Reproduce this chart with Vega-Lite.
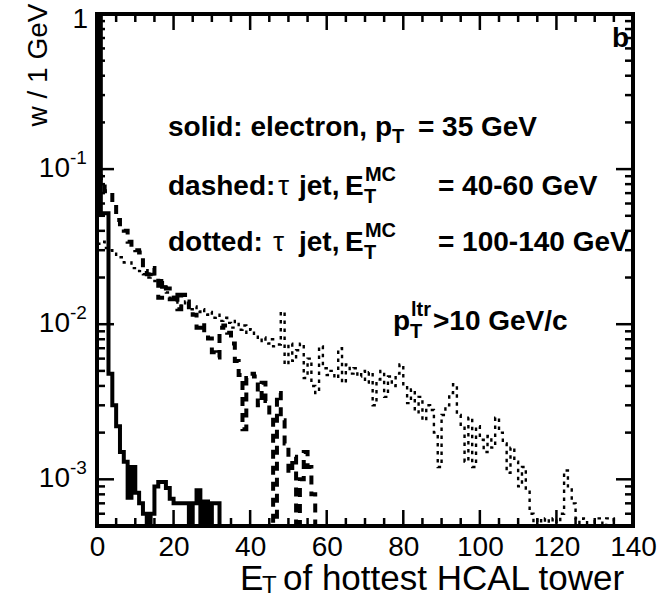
{
  "$schema": "https://vega.github.io/schema/vega-lite/v6.json",
  "width": 536,
  "height": 512,
  "autosize": {"type": "none"},
  "padding": {"left": 97, "top": 14, "right": 24, "bottom": 72},
  "background": "white",
  "config": {
    "view": {"stroke": "black", "strokeWidth": 4},
    "axis": {"grid": false, "domain": false, "labelColor": "black", "titleColor": "black", "tickColor": "black", "tickWidth": 2, "tickOpacity": 1}
  },
  "datasets": {
    "h": [
      {"s":"e","E":0,"w":0.97},{"s":"e","E":1,"w":0.052},{"s":"e","E":2,"w":0.052},{"s":"e","E":3,"w":0.0048},{"s":"e","E":4,"w":0.003},{"s":"e","E":5,"w":0.0022},{"s":"e","E":6,"w":0.0015},{"s":"e","E":7,"w":0.0013},{"s":"e","E":8,"w":0.00076},{"s":"e","E":9,"w":0.0012},{"s":"e","E":10,"w":0.00082},{"s":"e","E":11,"w":0.0007},{"s":"e","E":12,"w":0.0006},{"s":"e","E":13,"w":0.0001},{"s":"e","E":14,"w":0.0006},{"s":"e","E":15,"w":0.0009},{"s":"e","E":16,"w":0.00096},{"s":"e","E":17,"w":0.00096},{"s":"e","E":18,"w":0.00088},{"s":"e","E":19,"w":0.00075},{"s":"e","E":20,"w":0.0007},{"s":"e","E":21,"w":0.0007},{"s":"e","E":22,"w":0.0007},{"s":"e","E":23,"w":0.0007},{"s":"e","E":24,"w":0.0001},{"s":"e","E":25,"w":0.0007},{"s":"e","E":26,"w":0.00085},{"s":"e","E":27,"w":0.0001},{"s":"e","E":28,"w":0.00072},{"s":"e","E":29,"w":0.0001},{"s":"e","E":30,"w":0.0007},{"s":"e","E":31,"w":0.0007},{"s":"e","E":32,"w":0.0001},
      {"s":"d","E":0,"w":0.09},{"s":"d","E":1,"w":0.085},{"s":"d","E":2,"w":0.072},{"s":"d","E":3,"w":0.071},{"s":"d","E":4,"w":0.06},{"s":"d","E":5,"w":0.047},{"s":"d","E":6,"w":0.041},{"s":"d","E":7,"w":0.04},{"s":"d","E":8,"w":0.034},{"s":"d","E":9,"w":0.031},{"s":"d","E":10,"w":0.03},{"s":"d","E":11,"w":0.029},{"s":"d","E":12,"w":0.022},{"s":"d","E":13,"w":0.021},{"s":"d","E":14,"w":0.023},{"s":"d","E":15,"w":0.02},{"s":"d","E":16,"w":0.0148},{"s":"d","E":17,"w":0.019},{"s":"d","E":18,"w":0.017},{"s":"d","E":19,"w":0.0145},{"s":"d","E":20,"w":0.016},{"s":"d","E":21,"w":0.0125},{"s":"d","E":22,"w":0.0155},{"s":"d","E":23,"w":0.014},{"s":"d","E":24,"w":0.0125},{"s":"d","E":25,"w":0.0115},{"s":"d","E":26,"w":0.0095},{"s":"d","E":27,"w":0.0102},{"s":"d","E":28,"w":0.0088},{"s":"d","E":29,"w":0.0081},{"s":"d","E":30,"w":0.0066},{"s":"d","E":31,"w":0.0061},{"s":"d","E":32,"w":0.0095},{"s":"d","E":33,"w":0.0098},{"s":"d","E":34,"w":0.0088},{"s":"d","E":35,"w":0.0075},{"s":"d","E":36,"w":0.0058},{"s":"d","E":37,"w":0.0047},{"s":"d","E":38,"w":0.0021},{"s":"d","E":39,"w":0.0045},{"s":"d","E":40,"w":0.0048},{"s":"d","E":41,"w":0.0046},{"s":"d","E":42,"w":0.003},{"s":"d","E":43,"w":0.0042},{"s":"d","E":44,"w":0.0032},{"s":"d","E":45,"w":0.0025},{"s":"d","E":46,"w":0.0001},{"s":"d","E":47,"w":0.0036},{"s":"d","E":48,"w":0.0024},{"s":"d","E":49,"w":0.0017},{"s":"d","E":50,"w":0.0011},{"s":"d","E":51,"w":0.0014},{"s":"d","E":52,"w":0.0001},{"s":"d","E":53,"w":0.001},{"s":"d","E":54,"w":0.0015},{"s":"d","E":55,"w":0.0012},{"s":"d","E":56,"w":0.0008},{"s":"d","E":57,"w":0.0001},
      {"s":"o","E":0,"w":0.033},{"s":"o","E":1,"w":0.034},{"s":"o","E":2,"w":0.031},{"s":"o","E":3,"w":0.03},{"s":"o","E":4,"w":0.029},{"s":"o","E":5,"w":0.027},{"s":"o","E":6,"w":0.027},{"s":"o","E":7,"w":0.025},{"s":"o","E":8,"w":0.025},{"s":"o","E":9,"w":0.023},{"s":"o","E":10,"w":0.023},{"s":"o","E":11,"w":0.022},{"s":"o","E":12,"w":0.021},{"s":"o","E":13,"w":0.02},{"s":"o","E":14,"w":0.021},{"s":"o","E":15,"w":0.019},{"s":"o","E":16,"w":0.018},{"s":"o","E":17,"w":0.0175},{"s":"o","E":18,"w":0.016},{"s":"o","E":19,"w":0.0145},{"s":"o","E":20,"w":0.015},{"s":"o","E":21,"w":0.0135},{"s":"o","E":22,"w":0.013},{"s":"o","E":23,"w":0.014},{"s":"o","E":24,"w":0.0125},{"s":"o","E":25,"w":0.013},{"s":"o","E":26,"w":0.012},{"s":"o","E":27,"w":0.0125},{"s":"o","E":28,"w":0.0115},{"s":"o","E":29,"w":0.012},{"s":"o","E":30,"w":0.011},{"s":"o","E":31,"w":0.0115},{"s":"o","E":32,"w":0.0105},{"s":"o","E":33,"w":0.011},{"s":"o","E":34,"w":0.0102},{"s":"o","E":35,"w":0.0095},{"s":"o","E":36,"w":0.0105},{"s":"o","E":37,"w":0.0092},{"s":"o","E":38,"w":0.0098},{"s":"o","E":39,"w":0.0088},{"s":"o","E":40,"w":0.0093},{"s":"o","E":41,"w":0.0085},{"s":"o","E":42,"w":0.0078},{"s":"o","E":43,"w":0.0082},{"s":"o","E":44,"w":0.0075},{"s":"o","E":45,"w":0.008},{"s":"o","E":46,"w":0.0072},{"s":"o","E":47,"w":0.0074},{"s":"o","E":48,"w":0.012},{"s":"o","E":49,"w":0.0055},{"s":"o","E":50,"w":0.0075},{"s":"o","E":51,"w":0.0058},{"s":"o","E":52,"w":0.0068},{"s":"o","E":53,"w":0.0075},{"s":"o","E":54,"w":0.0045},{"s":"o","E":55,"w":0.006},{"s":"o","E":56,"w":0.004},{"s":"o","E":57,"w":0.0036},{"s":"o","E":58,"w":0.0072},{"s":"o","E":59,"w":0.0052},{"s":"o","E":60,"w":0.0047},{"s":"o","E":61,"w":0.005},{"s":"o","E":62,"w":0.0045},{"s":"o","E":63,"w":0.007},{"s":"o","E":64,"w":0.0042},{"s":"o","E":65,"w":0.0055},{"s":"o","E":66,"w":0.0048},{"s":"o","E":67,"w":0.0052},{"s":"o","E":68,"w":0.0046},{"s":"o","E":69,"w":0.005},{"s":"o","E":70,"w":0.0042},{"s":"o","E":71,"w":0.0049},{"s":"o","E":72,"w":0.003},{"s":"o","E":73,"w":0.0044},{"s":"o","E":74,"w":0.005},{"s":"o","E":75,"w":0.0034},{"s":"o","E":76,"w":0.0046},{"s":"o","E":77,"w":0.004},{"s":"o","E":78,"w":0.0048},{"s":"o","E":79,"w":0.0055},{"s":"o","E":80,"w":0.004},{"s":"o","E":81,"w":0.0031},{"s":"o","E":82,"w":0.0038},{"s":"o","E":83,"w":0.0027},{"s":"o","E":84,"w":0.0034},{"s":"o","E":85,"w":0.0024},{"s":"o","E":86,"w":0.003},{"s":"o","E":87,"w":0.0028},{"s":"o","E":88,"w":0.002},{"s":"o","E":89,"w":0.0012},{"s":"o","E":90,"w":0.0026},{"s":"o","E":91,"w":0.003},{"s":"o","E":92,"w":0.0036},{"s":"o","E":93,"w":0.0041},{"s":"o","E":94,"w":0.0026},{"s":"o","E":95,"w":0.0022},{"s":"o","E":96,"w":0.0013},{"s":"o","E":97,"w":0.0025},{"s":"o","E":98,"w":0.0012},{"s":"o","E":99,"w":0.0022},{"s":"o","E":100,"w":0.0018},{"s":"o","E":101,"w":0.0015},{"s":"o","E":102,"w":0.0019},{"s":"o","E":103,"w":0.0016},{"s":"o","E":104,"w":0.0025},{"s":"o","E":105,"w":0.002},{"s":"o","E":106,"w":0.0017},{"s":"o","E":107,"w":0.0011},{"s":"o","E":108,"w":0.0016},{"s":"o","E":109,"w":0.0013},{"s":"o","E":110,"w":0.0009},{"s":"o","E":111,"w":0.0012},{"s":"o","E":112,"w":0.00085},{"s":"o","E":113,"w":0.0006},{"s":"o","E":114,"w":0.0001},{"s":"o","E":115,"w":0.00056},{"s":"o","E":116,"w":0.0001},{"s":"o","E":117,"w":0.00056},{"s":"o","E":118,"w":0.0001},{"s":"o","E":119,"w":0.00056},{"s":"o","E":120,"w":0.0001},{"s":"o","E":121,"w":0.0006},{"s":"o","E":122,"w":0.00114},{"s":"o","E":123,"w":0.0009},{"s":"o","E":124,"w":0.0007},{"s":"o","E":125,"w":0.00056},{"s":"o","E":126,"w":0.0001},{"s":"o","E":127,"w":0.00056},{"s":"o","E":128,"w":0.0001},{"s":"o","E":129,"w":0.0001},{"s":"o","E":130,"w":0.00056},{"s":"o","E":131,"w":0.00056},{"s":"o","E":132,"w":0.0001},{"s":"o","E":133,"w":0.00056},{"s":"o","E":134,"w":0.00056},{"s":"o","E":135,"w":0.0001}
    ],
    "ann": [
      {"k":"b","E":18.54,"w":0.1632,"t":"solid: electron, p"},
      {"k":"b","E":83.83,"w":0.1632,"t":"= 35 GeV"},
      {"k":"b","E":18.54,"w":0.068,"t":"dashed:"},
      {"k":"b","E":52.76,"w":0.068,"t":"jet,"},
      {"k":"b","E":64.77,"w":0.068,"t":"E"},
      {"k":"b","E":89.06,"w":0.068,"t":"= 40-60 GeV"},
      {"k":"b","E":18.54,"w":0.02958,"t":"dotted:"},
      {"k":"b","E":52.76,"w":0.02958,"t":"jet,"},
      {"k":"b","E":64.77,"w":0.02958,"t":"E"},
      {"k":"b","E":89.06,"w":0.02958,"t":"= 100-140 GeV"},
      {"k":"b","E":77.3,"w":0.009149,"t":"p"},
      {"k":"b","E":87.75,"w":0.009149,"t":">10 GeV/c"},
      {"k":"b","E":134.5,"w":0.6124,"t":"b"},
      {"k":"s","E":77.04,"w":0.1472,"t":"T"},
      {"k":"s","E":69.73,"w":0.0603,"t":"T"},
      {"k":"s","E":69.99,"w":0.0837,"t":"MC"},
      {"k":"s","E":69.73,"w":0.02626,"t":"T"},
      {"k":"s","E":69.99,"w":0.03641,"t":"MC"},
      {"k":"s","E":81.74,"w":0.008124,"t":"T"},
      {"k":"s","E":82.01,"w":0.01126,"t":"ltr"},
      {"k":"g","E":47.27,"w":0.068,"t":"τ"},
      {"k":"g","E":46.0,"w":0.02958,"t":"τ"},
      {"k":"x","E":37.35,"w":0.0001923,"t":"E"},
      {"k":"x","E":48.58,"w":0.0001923,"t":"of hottest HCAL tower"},
      {"k":"xs","E":43.09,"w":0.0001838,"t":"T"},
      {"k":"y1","E":-2.35,"w":1,"t":"1"},
      {"k":"y","E":-7.05,"w":0.1,"t":"10"},
      {"k":"y","E":-7.05,"w":0.01,"t":"10"},
      {"k":"y","E":-7.05,"w":0.001,"t":"10"},
      {"k":"ye","E":-7.05,"w":0.1,"t":"-1"},
      {"k":"ye","E":-7.05,"w":0.01,"t":"-2"},
      {"k":"ye","E":-7.05,"w":0.001,"t":"-3"},
      {"k":"tv","E":20,"w":0.0005,"w2":0.000634},{"k":"tv","E":40,"w":0.0005,"w2":0.000634},{"k":"tv","E":60,"w":0.0005,"w2":0.000634},{"k":"tv","E":80,"w":0.0005,"w2":0.000634},{"k":"tv","E":100,"w":0.0005,"w2":0.000634},{"k":"tv","E":120,"w":0.0005,"w2":0.000634},
      {"k":"tv","E":5,"w":0.0005,"w2":0.000563},{"k":"tv","E":10,"w":0.0005,"w2":0.000563},{"k":"tv","E":15,"w":0.0005,"w2":0.000563},{"k":"tv","E":25,"w":0.0005,"w2":0.000563},{"k":"tv","E":30,"w":0.0005,"w2":0.000563},{"k":"tv","E":35,"w":0.0005,"w2":0.000563},{"k":"tv","E":45,"w":0.0005,"w2":0.000563},{"k":"tv","E":50,"w":0.0005,"w2":0.000563},{"k":"tv","E":55,"w":0.0005,"w2":0.000563},{"k":"tv","E":65,"w":0.0005,"w2":0.000563},{"k":"tv","E":70,"w":0.0005,"w2":0.000563},{"k":"tv","E":75,"w":0.0005,"w2":0.000563},{"k":"tv","E":85,"w":0.0005,"w2":0.000563},{"k":"tv","E":90,"w":0.0005,"w2":0.000563},{"k":"tv","E":95,"w":0.0005,"w2":0.000563},{"k":"tv","E":105,"w":0.0005,"w2":0.000563},{"k":"tv","E":110,"w":0.0005,"w2":0.000563},{"k":"tv","E":115,"w":0.0005,"w2":0.000563},{"k":"tv","E":125,"w":0.0005,"w2":0.000563},{"k":"tv","E":130,"w":0.0005,"w2":0.000563},{"k":"tv","E":135,"w":0.0005,"w2":0.000563},
      {"k":"tv","E":20,"w":1,"w2":0.7886},{"k":"tv","E":40,"w":1,"w2":0.7886},{"k":"tv","E":60,"w":1,"w2":0.7886},{"k":"tv","E":80,"w":1,"w2":0.7886},{"k":"tv","E":100,"w":1,"w2":0.7886},{"k":"tv","E":120,"w":1,"w2":0.7886},
      {"k":"tv","E":5,"w":1,"w2":0.888},{"k":"tv","E":10,"w":1,"w2":0.888},{"k":"tv","E":15,"w":1,"w2":0.888},{"k":"tv","E":25,"w":1,"w2":0.888},{"k":"tv","E":30,"w":1,"w2":0.888},{"k":"tv","E":35,"w":1,"w2":0.888},{"k":"tv","E":45,"w":1,"w2":0.888},{"k":"tv","E":50,"w":1,"w2":0.888},{"k":"tv","E":55,"w":1,"w2":0.888},{"k":"tv","E":65,"w":1,"w2":0.888},{"k":"tv","E":70,"w":1,"w2":0.888},{"k":"tv","E":75,"w":1,"w2":0.888},{"k":"tv","E":85,"w":1,"w2":0.888},{"k":"tv","E":90,"w":1,"w2":0.888},{"k":"tv","E":95,"w":1,"w2":0.888},{"k":"tv","E":105,"w":1,"w2":0.888},{"k":"tv","E":110,"w":1,"w2":0.888},{"k":"tv","E":115,"w":1,"w2":0.888},{"k":"tv","E":125,"w":1,"w2":0.888},{"k":"tv","E":130,"w":1,"w2":0.888},{"k":"tv","E":135,"w":1,"w2":0.888},
      {"k":"th","w":0.001,"E":0,"E2":4.44},{"k":"th","w":0.01,"E":0,"E2":4.44},{"k":"th","w":0.1,"E":0,"E2":4.44},
      {"k":"th","w":0.001,"E":140,"E2":135.56},{"k":"th","w":0.01,"E":140,"E2":135.56},{"k":"th","w":0.1,"E":140,"E2":135.56},
      {"k":"th","w":0.0006,"E":0,"E2":2.09},{"k":"th","w":0.0007,"E":0,"E2":2.09},{"k":"th","w":0.0008,"E":0,"E2":2.09},{"k":"th","w":0.0009,"E":0,"E2":2.09},
      {"k":"th","w":0.002,"E":0,"E2":2.09},{"k":"th","w":0.003,"E":0,"E2":2.09},{"k":"th","w":0.004,"E":0,"E2":2.09},{"k":"th","w":0.005,"E":0,"E2":2.09},{"k":"th","w":0.006,"E":0,"E2":2.09},{"k":"th","w":0.007,"E":0,"E2":2.09},{"k":"th","w":0.008,"E":0,"E2":2.09},{"k":"th","w":0.009,"E":0,"E2":2.09},
      {"k":"th","w":0.02,"E":0,"E2":2.09},{"k":"th","w":0.03,"E":0,"E2":2.09},{"k":"th","w":0.04,"E":0,"E2":2.09},{"k":"th","w":0.05,"E":0,"E2":2.09},{"k":"th","w":0.06,"E":0,"E2":2.09},{"k":"th","w":0.07,"E":0,"E2":2.09},{"k":"th","w":0.08,"E":0,"E2":2.09},{"k":"th","w":0.09,"E":0,"E2":2.09},
      {"k":"th","w":0.2,"E":0,"E2":2.09},{"k":"th","w":0.3,"E":0,"E2":2.09},{"k":"th","w":0.4,"E":0,"E2":2.09},{"k":"th","w":0.5,"E":0,"E2":2.09},{"k":"th","w":0.6,"E":0,"E2":2.09},{"k":"th","w":0.7,"E":0,"E2":2.09},{"k":"th","w":0.8,"E":0,"E2":2.09},{"k":"th","w":0.9,"E":0,"E2":2.09},
      {"k":"th","w":0.0006,"E":140,"E2":137.91},{"k":"th","w":0.0007,"E":140,"E2":137.91},{"k":"th","w":0.0008,"E":140,"E2":137.91},{"k":"th","w":0.0009,"E":140,"E2":137.91},
      {"k":"th","w":0.002,"E":140,"E2":137.91},{"k":"th","w":0.003,"E":140,"E2":137.91},{"k":"th","w":0.004,"E":140,"E2":137.91},{"k":"th","w":0.005,"E":140,"E2":137.91},{"k":"th","w":0.006,"E":140,"E2":137.91},{"k":"th","w":0.007,"E":140,"E2":137.91},{"k":"th","w":0.008,"E":140,"E2":137.91},{"k":"th","w":0.009,"E":140,"E2":137.91},
      {"k":"th","w":0.02,"E":140,"E2":137.91},{"k":"th","w":0.03,"E":140,"E2":137.91},{"k":"th","w":0.04,"E":140,"E2":137.91},{"k":"th","w":0.05,"E":140,"E2":137.91},{"k":"th","w":0.06,"E":140,"E2":137.91},{"k":"th","w":0.07,"E":140,"E2":137.91},{"k":"th","w":0.08,"E":140,"E2":137.91},{"k":"th","w":0.09,"E":140,"E2":137.91},
      {"k":"th","w":0.2,"E":140,"E2":137.91},{"k":"th","w":0.3,"E":140,"E2":137.91},{"k":"th","w":0.4,"E":140,"E2":137.91},{"k":"th","w":0.5,"E":140,"E2":137.91},{"k":"th","w":0.6,"E":140,"E2":137.91},{"k":"th","w":0.7,"E":140,"E2":137.91},{"k":"th","w":0.8,"E":140,"E2":137.91},{"k":"th","w":0.9,"E":140,"E2":137.91}
    ]
  },
  "layer": [
    {
      "data": {"name": "h"},
      "transform": [{"filter": "datum.s === 'o'"}],
      "mark": {"type": "line", "interpolate": "step-after", "clip": true, "color": "black", "strokeWidth": 2.4, "strokeDash": [3.5, 4.5]},
      "encoding": {
        "x": {"field": "E", "type": "quantitative", "scale": {"domain": [0, 140], "nice": false, "zero": false},
              "axis": {"orient": "bottom", "values": [0,20,40,60,80,100,120,140], "ticks": false, "labels": true, "labelFont": "Liberation Sans", "labelFontSize": 28, "labelBaseline": "alphabetic", "labelPadding": 29, "labelFlush": false, "labelOverlap": false, "format": "d", "title": null}},
        "y": {"field": "w", "type": "quantitative", "scale": {"type": "log", "domain": [0.0005, 1], "nice": false},
              "axis": {"orient": "left", "values": [1], "ticks": false, "labels": false, "title": "w / 1 GeV", "titleFont": "Liberation Sans", "titleFontSize": 28, "titleFontWeight": "normal", "titleAngle": 270, "titleAlign": "right", "titleBaseline": "alphabetic", "titleX": -51, "titleY": -11}}
      }
    },
    {
      "data": {"name": "h"},
      "transform": [{"filter": "datum.s === 'd'"}],
      "mark": {"type": "line", "interpolate": "step-after", "clip": true, "color": "black", "strokeWidth": 4, "strokeDash": [9, 7]},
      "encoding": {
        "x": {"field": "E", "type": "quantitative", "scale": {"domain": [0, 140], "nice": false, "zero": false}, "axis": null},
        "y": {"field": "w", "type": "quantitative", "scale": {"type": "log", "domain": [0.0005, 1], "nice": false}, "axis": null}
      }
    },
    {
      "data": {"name": "h"},
      "transform": [{"filter": "datum.s === 'e'"}],
      "mark": {"type": "line", "interpolate": "step-after", "clip": true, "color": "black", "strokeWidth": 4},
      "encoding": {
        "x": {"field": "E", "type": "quantitative", "scale": {"domain": [0, 140], "nice": false, "zero": false}, "axis": null},
        "y": {"field": "w", "type": "quantitative", "scale": {"type": "log", "domain": [0.0005, 1], "nice": false}, "axis": null}
      }
    },
    {
      "data": {"name": "ann"},
      "transform": [{"filter": "datum.k === 'tv'"}],
      "mark": {"type": "rule", "color": "black", "strokeWidth": 2.5, "opacity": 1},
      "encoding": {
        "x": {"field": "E", "type": "quantitative", "scale": {"domain": [0, 140], "nice": false, "zero": false}, "axis": null},
        "y": {"field": "w", "type": "quantitative", "scale": {"type": "log", "domain": [0.0005, 1], "nice": false}, "axis": null},
        "y2": {"field": "w2"}
      }
    },
    {
      "data": {"name": "ann"},
      "transform": [{"filter": "datum.k === 'th'"}],
      "mark": {"type": "rule", "color": "black", "strokeWidth": 2.5, "opacity": 1},
      "encoding": {
        "x": {"field": "E", "type": "quantitative", "scale": {"domain": [0, 140], "nice": false, "zero": false}, "axis": null},
        "x2": {"field": "E2"},
        "y": {"field": "w", "type": "quantitative", "scale": {"type": "log", "domain": [0.0005, 1], "nice": false}, "axis": null}
      }
    },
    {
      "data": {"name": "ann"},
      "transform": [{"filter": "datum.k === 'b'"}],
      "mark": {"type": "text", "align": "left", "baseline": "alphabetic", "font": "Liberation Sans", "fontWeight": "bold", "fontSize": 28, "color": "black"},
      "encoding": {
        "x": {"field": "E", "type": "quantitative", "scale": {"domain": [0, 140], "nice": false, "zero": false}, "axis": null},
        "y": {"field": "w", "type": "quantitative", "scale": {"type": "log", "domain": [0.0005, 1], "nice": false}, "axis": null},
        "text": {"field": "t"}
      }
    },
    {
      "data": {"name": "ann"},
      "transform": [{"filter": "datum.k === 's'"}],
      "mark": {"type": "text", "align": "left", "baseline": "alphabetic", "font": "Liberation Sans", "fontWeight": "bold", "fontSize": 20, "color": "black"},
      "encoding": {
        "x": {"field": "E", "type": "quantitative", "scale": {"domain": [0, 140], "nice": false, "zero": false}, "axis": null},
        "y": {"field": "w", "type": "quantitative", "scale": {"type": "log", "domain": [0.0005, 1], "nice": false}, "axis": null},
        "text": {"field": "t"}
      }
    },
    {
      "data": {"name": "ann"},
      "transform": [{"filter": "datum.k === 'g'"}],
      "mark": {"type": "text", "align": "left", "baseline": "alphabetic", "font": "Liberation Sans", "fontWeight": "normal", "fontSize": 28, "color": "black"},
      "encoding": {
        "x": {"field": "E", "type": "quantitative", "scale": {"domain": [0, 140], "nice": false, "zero": false}, "axis": null},
        "y": {"field": "w", "type": "quantitative", "scale": {"type": "log", "domain": [0.0005, 1], "nice": false}, "axis": null},
        "text": {"field": "t"}
      }
    },
    {
      "data": {"name": "ann"},
      "transform": [{"filter": "datum.k === 'x'"}],
      "mark": {"type": "text", "align": "left", "baseline": "alphabetic", "font": "Liberation Sans", "fontWeight": "normal", "fontSize": 35, "color": "black"},
      "encoding": {
        "x": {"field": "E", "type": "quantitative", "scale": {"domain": [0, 140], "nice": false, "zero": false}, "axis": null},
        "y": {"field": "w", "type": "quantitative", "scale": {"type": "log", "domain": [0.0005, 1], "nice": false}, "axis": null},
        "text": {"field": "t"}
      }
    },
    {
      "data": {"name": "ann"},
      "transform": [{"filter": "datum.k === 'xs'"}],
      "mark": {"type": "text", "align": "left", "baseline": "alphabetic", "font": "Liberation Sans", "fontWeight": "normal", "fontSize": 24, "color": "black"},
      "encoding": {
        "x": {"field": "E", "type": "quantitative", "scale": {"domain": [0, 140], "nice": false, "zero": false}, "axis": null},
        "y": {"field": "w", "type": "quantitative", "scale": {"type": "log", "domain": [0.0005, 1], "nice": false}, "axis": null},
        "text": {"field": "t"}
      }
    },
    {
      "data": {"name": "ann"},
      "transform": [{"filter": "datum.k === 'y'"}],
      "mark": {"type": "text", "align": "right", "baseline": "middle", "font": "Liberation Sans", "fontWeight": "normal", "fontSize": 28, "color": "black"},
      "encoding": {
        "x": {"field": "E", "type": "quantitative", "scale": {"domain": [0, 140], "nice": false, "zero": false}, "axis": null},
        "y": {"field": "w", "type": "quantitative", "scale": {"type": "log", "domain": [0.0005, 1], "nice": false}, "axis": null},
        "text": {"field": "t"}
      }
    },
    {
      "data": {"name": "ann"},
      "transform": [{"filter": "datum.k === 'y1'"}],
      "mark": {"type": "text", "align": "right", "baseline": "middle", "dy": 6, "font": "Liberation Sans", "fontWeight": "normal", "fontSize": 28, "color": "black"},
      "encoding": {
        "x": {"field": "E", "type": "quantitative", "scale": {"domain": [0, 140], "nice": false, "zero": false}, "axis": null},
        "y": {"field": "w", "type": "quantitative", "scale": {"type": "log", "domain": [0.0005, 1], "nice": false}, "axis": null},
        "text": {"field": "t"}
      }
    },
    {
      "data": {"name": "ann"},
      "transform": [{"filter": "datum.k === 'ye'"}],
      "mark": {"type": "text", "align": "left", "baseline": "middle", "dy": -11, "font": "Liberation Sans", "fontWeight": "normal", "fontSize": 19, "color": "black"},
      "encoding": {
        "x": {"field": "E", "type": "quantitative", "scale": {"domain": [0, 140], "nice": false, "zero": false}, "axis": null},
        "y": {"field": "w", "type": "quantitative", "scale": {"type": "log", "domain": [0.0005, 1], "nice": false}, "axis": null},
        "text": {"field": "t"}
      }
    }
  ],
  "resolve": {"axis": {"x": "independent", "y": "independent"}}
}
